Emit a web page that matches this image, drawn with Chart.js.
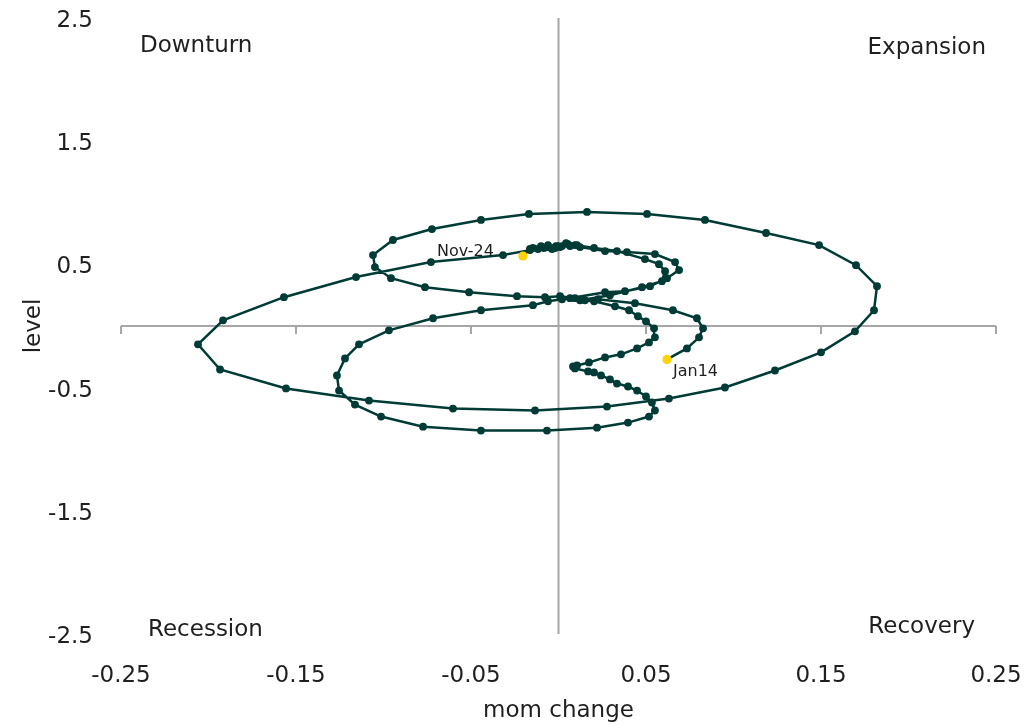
<!DOCTYPE html>
<html>
<head>
<meta charset="utf-8">
<script src="https://cdn.jsdelivr.net/npm/chart.js@4.4.1/dist/chart.umd.min.js"></script>
<style>
  html, body { margin: 0; padding: 0; background: #fff; }
  #wrap { width: 1026px; height: 725px; }
</style>
</head>
<body>
<div id="wrap"><canvas id="cycleChart" width="1026" height="725"></canvas></div>
<script>
// monthly path, Jan 2014 -> Nov 2024
const momChange = [
  0.0620, 0.0734, 0.0803, 0.0826, 0.0791, 0.0654, 0.0437, 0.0226, 0.0151, 0.0066,
  0.0266, 0.0380, 0.0523, 0.0620, 0.0689, 0.0666, 0.0551, 0.0391, 0.0266,
  0.0123, 0.0066, 0.0020, -0.0020, -0.0060, -0.0100, -0.0146, -0.0117, -0.0060, -0.0014,
  0.0043, 0.0106, 0.0054, 0.0009, -0.0037, -0.0083, -0.0163,
  -0.0317, -0.0729, -0.1157, -0.1569, -0.1917, -0.2060, -0.1934, -0.1557, -0.1083, -0.0603,
  -0.0134, 0.0277, 0.0631, 0.0951, 0.1237, 0.1500, 0.1694, 0.1803, 0.1820, 0.1700,
  0.1489, 0.1186, 0.0837, 0.0506, 0.0163, -0.0169, -0.0443, -0.0723, -0.0946, -0.1060,
  -0.1049, -0.0957, -0.0763, -0.0511, -0.0237,
  -0.0077, 0.0009, 0.0094, 0.0020, -0.0060, -0.0146,
  -0.0443, -0.0717, -0.0969, -0.1140, -0.1220, -0.1266, -0.1254, -0.1163, -0.1014, -0.0774,
  -0.0443, -0.0066, 0.0220, 0.0397, 0.0517, 0.0551, 0.0534, 0.0500, 0.0449, 0.0397,
  0.0334, 0.0294, 0.0243, 0.0203, 0.0169, 0.0094, 0.0083, 0.0106, 0.0174, 0.0266,
  0.0357, 0.0449, 0.0517, 0.0551, 0.0546, 0.0500, 0.0454, 0.0403, 0.0323,
  0.0203, 0.0123,
  0.0294, 0.0477, 0.0591, 0.0609, 0.0574, 0.0494, 0.0334,
  0.0203, 0.0094, -0.0003, -0.0094, -0.0163, -0.0203
];
const level = [
  -0.271, -0.182, -0.092, -0.019, 0.063, 0.128, 0.185, 0.217, 0.209, 0.226,
  0.274, 0.283, 0.323, 0.388, 0.454, 0.519, 0.584, 0.600, 0.608,
  0.641, 0.649, 0.649, 0.633, 0.641, 0.649, 0.633, 0.625, 0.657, 0.649,
  0.673, 0.657, 0.665, 0.641, 0.625, 0.633, 0.616,
  0.576, 0.519, 0.397, 0.234, 0.046, -0.149, -0.353, -0.507, -0.605, -0.670,
  -0.686, -0.654, -0.589, -0.499, -0.361, -0.214, -0.043, 0.128, 0.323, 0.494,
  0.657, 0.755, 0.861, 0.910, 0.926, 0.910, 0.861, 0.787, 0.698, 0.576,
  0.478, 0.388, 0.315, 0.274, 0.242,
  0.234, 0.242, 0.226, 0.217, 0.201, 0.169,
  0.128, 0.063, -0.035, -0.149, -0.263, -0.401, -0.524, -0.638, -0.735, -0.817,
  -0.849, -0.849, -0.825, -0.784, -0.735, -0.686, -0.621, -0.572, -0.524, -0.491,
  -0.467, -0.434, -0.401, -0.377, -0.369, -0.344, -0.328, -0.320, -0.296, -0.255,
  -0.230, -0.182, -0.133, -0.092, -0.019, 0.038, 0.079, 0.128, 0.160,
  0.201, 0.209,
  0.250, 0.315, 0.364, 0.445, 0.502, 0.543, 0.608,
  0.633, 0.657, 0.649, 0.641, 0.625, 0.568
];
const endLabels = ['Jan14', 'Nov-24'];
const xTicks = [-0.25, -0.15, -0.05, 0.05, 0.15, 0.25];
const xTickLabels = ['-0.25', '-0.15', '-0.05', '0.05', '0.15', '0.25'];
const yTicks = [-2.5, -1.5, -0.5, 0.5, 1.5, 2.5];
const yTickLabels = ['-2.5', '-1.5', '-0.5', '0.5', '1.5', '2.5'];
const quadrantNames = ['Downturn', 'Expansion', 'Recession', 'Recovery'];

const LINE = '#003b35';
const YELLOW = '#ffd200';
const AXIS = '#a6a6a6';
const TEXT = '#1f1f1f';
const FONT = 'DejaVu Sans';

Chart.defaults.font.family = FONT;

const points = momChange.map((v, i) => ({ x: v, y: level[i] }));
const ends = [points[0], points[points.length - 1]];

// invisible tick marks only used to space the labels away from the plot
const hiddenGrid = len => ({
    display: true, color: 'rgba(0,0,0,0)', drawOnChartArea: false,
    drawTicks: true, tickLength: len
});

// zero-crossing axes, quadrant names, end labels
const cyclePlugin = {
    id: 'cyclePlugin',
    beforeDatasetsDraw(chart) {
        const { ctx, chartArea: a, scales: { x, y } } = chart;
        const x0 = x.getPixelForValue(0);
        const y0 = y.getPixelForValue(0);
        ctx.save();
        ctx.strokeStyle = AXIS;
        ctx.lineWidth = 2;
        ctx.beginPath();
        ctx.moveTo(a.left, y0); ctx.lineTo(a.right, y0);
        ctx.moveTo(x0, a.top); ctx.lineTo(x0, a.bottom);
        xTicks.forEach(v => {
            const px = Math.round(x.getPixelForValue(v));
            ctx.moveTo(px, y0); ctx.lineTo(px, y0 + 8);
        });
        ctx.stroke();
        ctx.restore();
    },
    afterDatasetsDraw(chart) {
        const { ctx, chartArea: a, scales: { x, y } } = chart;
        ctx.save();
        ctx.fillStyle = TEXT;
        ctx.textBaseline = 'middle';
        ctx.font = '23px "' + FONT + '"';
        ctx.textAlign = 'left';
        ctx.fillText(quadrantNames[0], a.left + 19, a.top + 28);
        ctx.fillText(quadrantNames[2], a.left + 27, a.bottom - 4);
        ctx.textAlign = 'right';
        ctx.fillText(quadrantNames[1], a.right - 10, a.top + 30);
        ctx.fillText(quadrantNames[3], a.right - 21, a.bottom - 7);

        ctx.font = '16px "' + FONT + '"';
        const p0 = ends[0], p1 = ends[1];
        ctx.textAlign = 'left';
        ctx.fillText(endLabels[0], x.getPixelForValue(p0.x) + 6, y.getPixelForValue(p0.y) + 12);
        ctx.textAlign = 'right';
        ctx.fillText(endLabels[1], x.getPixelForValue(p1.x) - 29, y.getPixelForValue(p1.y) - 4);
        ctx.restore();
    }
};

new Chart(document.getElementById('cycleChart'), {
    type: 'scatter',
    data: {
        datasets: [{
            data: ends,
            order: 0,
            showLine: false,
            pointRadius: 4.6,
            pointBorderWidth: 0,
            pointBackgroundColor: YELLOW
        }, {
            data: points,
            order: 1,
            showLine: true,
            borderColor: LINE,
            borderWidth: 2.5,
            pointRadius: 3.9,
            pointBorderWidth: 0,
            pointBackgroundColor: LINE,
            tension: 0
        }]
    },
    options: {
        responsive: false,
        animation: false,
        devicePixelRatio: 1,
        layout: { padding: { top: 18, right: 30, left: 0, bottom: 0 } },
        plugins: { legend: { display: false }, tooltip: { enabled: false } },
        scales: {
            x: {
                type: 'linear', min: -0.25, max: 0.25,
                afterBuildTicks: s => { s.ticks = xTicks.map(v => ({ value: v })); },
                afterFit: s => { s.height = 91; },
                grid: hiddenGrid(28),
                border: { display: false },
                ticks: {
                    callback: (v, i) => xTickLabels[i],
                    color: TEXT, font: { size: 23 }, padding: 0,
                    maxRotation: 0, autoSkip: false
                },
                title: { display: true, text: 'mom change', color: TEXT, font: { size: 23 }, padding: { top: 0, bottom: 0 } }
            },
            y: {
                type: 'linear', min: -2.5, max: 2.5,
                afterBuildTicks: s => { s.ticks = yTicks.map(v => ({ value: v })); },
                afterFit: s => { s.width = 121; },
                grid: hiddenGrid(28),
                border: { display: false },
                ticks: {
                    callback: (v, i) => yTickLabels[i],
                    color: TEXT, font: { size: 23 }, padding: 0, autoSkip: false,
                    labelOffset: 3
                },
                title: { display: true, text: 'level', color: TEXT, font: { size: 23 }, padding: { top: 20, bottom: 0 } }
            }
        }
    },
    plugins: [cyclePlugin]
});
</script>
</body>
</html>
